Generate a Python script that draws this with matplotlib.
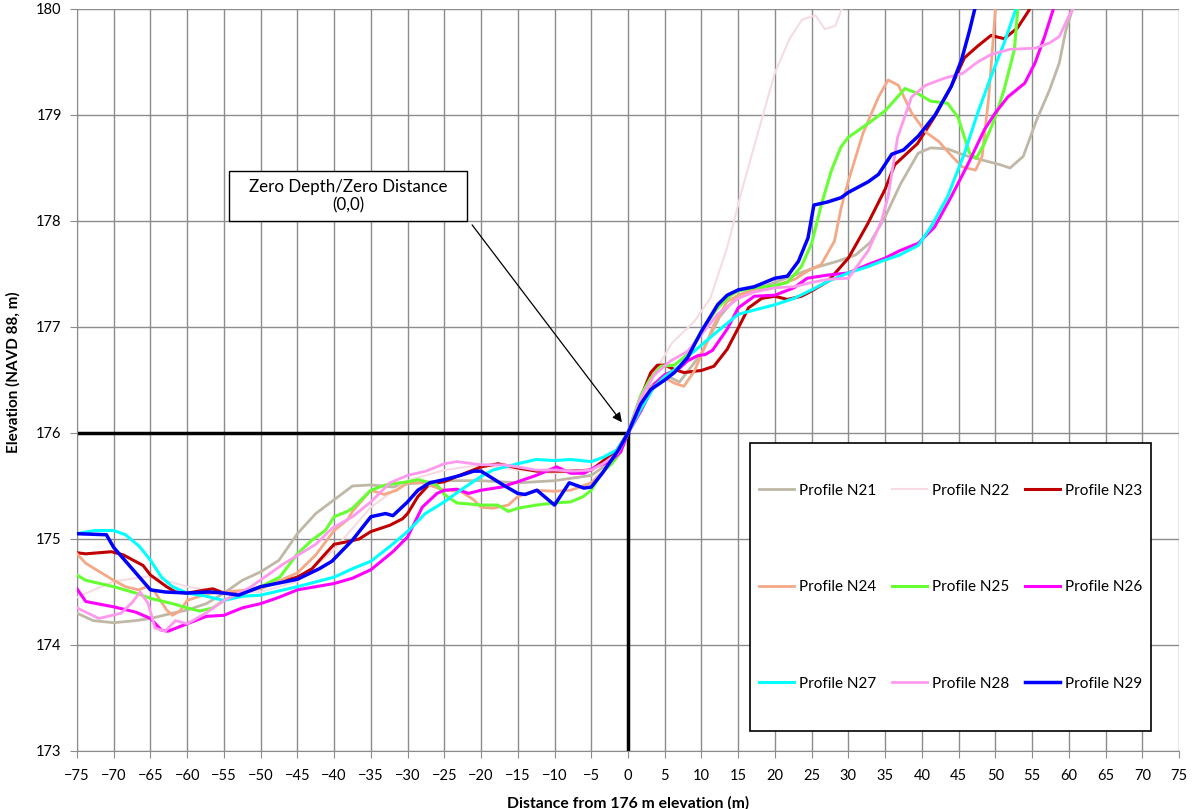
import matplotlib
matplotlib.use("Agg")
import matplotlib.pyplot as plt
from matplotlib.patches import Rectangle
from matplotlib.ticker import MultipleLocator

plt.rcParams['font.family'] = ['Lato', 'DejaVu Sans']

# ---- profile data (distance m, elevation m) ----
n21_x = [-75, -72.8, -70, -67, -65, -62, -60, -57.4, -55, -52.5, -50, -47.5, -45, -42.5, -40, -37.5, -35, -32, -30, -25,
         -20, -15, -10, -5, -2.5, 0, 2, 5, 7, 10, 12.5, 15, 20, 25, 28.5, 31, 33, 35, 37.1, 39.5, 41.2, 43.5, 45.8, 48.5,
         50.7, 52, 53.8, 55.6, 57.4, 58.7, 59.6, 60.5, 61]
n21_y = [174.3, 174.23, 174.21, 174.23, 174.25, 174.3, 174.33, 174.39, 174.49, 174.61, 174.69, 174.8, 175.05, 175.24,
         175.37, 175.5, 175.51, 175.49, 175.52, 175.55, 175.55, 175.53, 175.55, 175.6, 175.72, 176, 176.38, 176.55,
         176.48, 176.75, 177.1, 177.3, 177.42, 177.55, 177.62, 177.68, 177.8, 178.04, 178.35, 178.64, 178.69, 178.68,
         178.62, 178.57, 178.53, 178.5, 178.61, 178.95, 179.24, 179.49, 179.8, 180.0, 180.2]

n22_x = [-75, -70, -65, -60, -55, -50, -45, -40, -35, -30, -25, -20, -15, -10, -5, -2, 0, 3, 6, 9, 11.2, 13.5, 15.5,
         17.8, 20, 22, 23.7, 25.5, 26.8, 28.2, 29.1, 30]
n22_y = [174.45, 174.6, 174.65, 174.55, 174.5, 174.5, 174.6, 174.9, 175.3, 175.55, 175.65, 175.7, 175.65, 175.62,
         175.66, 175.8, 176, 176.5, 176.85, 177.05, 177.27, 177.75, 178.29, 178.86, 179.4, 179.72, 179.9, 179.94,
         179.81, 179.84, 180.0, 180.25]

n23_x = [-75, -73.8, -70.3, -68.7, -66, -65, -62.8, -61.6, -60, -58.3, -56.5, -55, -53, -50, -45, -43, -41.2, -40,
         -38.5, -36.6, -35, -32.4, -30.7, -30, -28.6, -27, -25, -23.3, -20, -17.7, -15, -12.4, -10, -7.8, -5, -3.5,
         -1.5, 0, 1.7, 3.1, 4, 5, 6.3, 7.6, 10, 11.7, 13.5, 15, 16.4, 18.2, 20, 21.7, 23.6, 25, 27.2, 30, 32.6, 35,
         36.3, 39.4, 41.7, 44, 45.8, 47.6, 49.4, 51.2, 53, 54.6, 55.5]
n23_y = [174.87, 174.86, 174.88, 174.85, 174.75, 174.66, 174.55, 174.5, 174.49, 174.51, 174.53, 174.49, 174.48, 174.55,
         174.64, 174.72, 174.86, 174.95, 174.97, 175.0, 175.07, 175.13, 175.19, 175.24, 175.4, 175.52, 175.54, 175.59,
         175.68, 175.71, 175.67, 175.64, 175.64, 175.64, 175.65, 175.73, 175.84, 176, 176.33, 176.57, 176.64, 176.64,
         176.6, 176.57, 176.59, 176.63, 176.79, 176.99, 177.18, 177.27, 177.29, 177.26, 177.29, 177.34, 177.43, 177.65,
         177.97, 178.3, 178.53, 178.73, 178.98, 179.27, 179.54, 179.65, 179.75, 179.72, 179.82, 179.99, 180.2]

n24_x = [-75, -73.8, -70, -68.4, -66.6, -65.5, -64.4, -62.8, -62, -61, -60, -58.3, -56.5, -55, -50, -45, -42.5, -40,
         -38.2, -37.5, -35, -33.2, -31.5, -30, -28, -25, -22.8, -21, -20, -18.4, -16.3, -15, -12.5, -10, -7.8, -5,
         -3.4, -1.6, 0, 1.7, 3.6, 5, 6.3, 7.6, 9, 10, 11.7, 13.5, 15, 17.2, 20, 22.7, 24.5, 26.3, 28.1, 29, 30, 32,
         34.1, 35.4, 36.8, 38.6, 40.5, 42.3, 44.1, 45.5, 47.3, 48.2, 49.1, 49.8, 50.2]
n24_y = [174.86, 174.77, 174.61, 174.55, 174.52, 174.55, 174.5, 174.33, 174.28, 174.32, 174.42, 174.46, 174.49, 174.5,
         174.53, 174.68, 174.85, 175.08, 175.18, 175.26, 175.46, 175.42, 175.46, 175.53, 175.53, 175.46, 175.45,
         175.37, 175.3, 175.29, 175.32, 175.4, 175.46, 175.45, 175.46, 175.53, 175.64, 175.76, 176, 176.3, 176.46,
         176.52, 176.47, 176.44, 176.58, 176.74, 177.02, 177.24, 177.3, 177.35, 177.39, 177.45, 177.53, 177.59,
         177.81, 178.12, 178.38, 178.83, 179.17, 179.33, 179.28, 179.02, 178.84, 178.75, 178.61, 178.51, 178.48,
         178.61, 179.17, 179.8, 180.2]

n25_x = [-75, -73.8, -70, -67, -65, -62, -60, -58.3, -56.5, -55, -53, -50, -47.4, -45, -43, -41.2, -40, -38.2, -37.5,
         -35, -33, -30, -28.5, -26, -25, -23.3, -20, -17.7, -16.3, -15, -12.5, -10, -7.8, -6.1, -5, -3.6, -2.2, -1, 0,
         1.7, 3.1, 4.5, 6.3, 8.1, 10, 12.2, 14, 15, 17.2, 20, 21.7, 23.6, 25, 26.3, 27.7, 29, 30, 32.7, 35, 36.3, 37.7,
         39.5, 41.2, 43.5, 44.9, 46.5, 47.4, 48.5, 50, 51.2, 52.6, 53.3]
n25_y = [174.66, 174.61, 174.55, 174.49, 174.44, 174.39, 174.35, 174.32, 174.35, 174.42, 174.48, 174.55, 174.64,
         174.86, 174.99, 175.08, 175.21, 175.26, 175.29, 175.46, 175.51, 175.54, 175.56, 175.51, 175.42, 175.34,
         175.32, 175.32, 175.26, 175.29, 175.32, 175.34, 175.35, 175.4, 175.46, 175.62, 175.71, 175.82, 176, 176.35,
         176.52, 176.63, 176.64, 176.74, 176.96, 177.18, 177.3, 177.34, 177.37, 177.39, 177.42, 177.57, 177.79,
         178.15, 178.48, 178.7, 178.79, 178.92, 179.04, 179.14, 179.25, 179.2, 179.13, 179.11, 178.98, 178.64,
         178.59, 178.73, 178.98, 179.24, 179.62, 180.2]

n26_x = [-75, -73.8, -70, -67, -65, -63.5, -62.6, -61.5, -60, -57.4, -55, -52.5, -50, -47.5, -45, -40, -37.5, -35, -32,
         -30, -28, -26, -25, -23.3, -21.7, -20, -17.2, -15, -12.5, -9.7, -7.8, -6, -4.4, -2.5, -1, 0, 1.7, 3.6, 5, 7,
         8.1, 9.5, 10.5, 11.5, 12.5, 13.5, 15, 17.2, 20, 22.6, 24.4, 27.2, 30, 32.7, 35, 37, 39.5, 41.7, 44, 46.3, 48.5,
         50, 51.7, 54, 55.4, 56.7, 57.9, 58.5]
n26_y = [174.53, 174.41, 174.36, 174.31, 174.25, 174.14, 174.13, 174.16, 174.2, 174.27, 174.28, 174.35, 174.39, 174.45,
         174.52, 174.58, 174.63, 174.71, 174.88, 175.02, 175.3, 175.43, 175.46, 175.47, 175.43, 175.46, 175.49,
         175.54, 175.6, 175.68, 175.62, 175.62, 175.68, 175.73, 175.82, 176, 176.2, 176.46, 176.55, 176.61, 176.68,
         176.73, 176.74, 176.78, 176.88, 176.98, 177.18, 177.29, 177.3, 177.37, 177.46, 177.49, 177.51, 177.59,
         177.65, 177.72, 177.79, 177.94, 178.23, 178.54, 178.86, 179.02, 179.17, 179.3, 179.49, 179.74, 180.0, 180.2]

n27_x = [-75, -72.6, -70, -68.4, -66.5, -65, -63.5, -62, -60, -57.4, -55, -52.5, -50, -45, -40, -37.5, -35, -32.4, -30,
         -27.6, -25, -22.8, -20, -18.4, -15, -12.5, -10, -7.8, -5, -3.4, -1.5, 0, 1.7, 3.6, 5, 7, 8.1, 10, 12.2, 15,
         17.2, 20, 22.6, 25, 27.2, 30, 32.7, 34.5, 37, 39.5, 41.2, 43.5, 45.8, 47.6, 49.4, 51.2, 52.8, 53.5]
n27_y = [175.05, 175.08, 175.08, 175.04, 174.93, 174.8, 174.64, 174.55, 174.49, 174.46, 174.42, 174.46, 174.47, 174.55,
         174.64, 174.72, 174.79, 174.93, 175.07, 175.24, 175.35, 175.46, 175.59, 175.65, 175.71, 175.75, 175.74,
         175.75, 175.73, 175.77, 175.84, 176, 176.22, 176.44, 176.53, 176.63, 176.72, 176.83, 176.96, 177.12, 177.16,
         177.21, 177.27, 177.35, 177.43, 177.51, 177.57, 177.62, 177.68, 177.77, 177.94, 178.23, 178.64, 179.02,
         179.36, 179.68, 180.0, 180.2]

n28_x = [-75, -72, -69, -67.5, -66.4, -65.3, -64.4, -63, -61.6, -60, -57.5, -55, -51.5, -47, -42.5, -40.3, -37.5, -35,
         -32.4, -30, -27.5, -25, -23.3, -20, -17, -15, -12.5, -10, -7.5, -5, -3.4, -1.4, 0, 1.7, 3.6, 5.8, 8.1, 10,
         12.2, 15, 17.2, 20, 22.6, 25, 27.2, 30, 32.7, 34.5, 35.4, 36.7, 38.6, 40.5, 43.2, 45.5, 47.6, 49.4, 52, 55.4,
         57.4, 58.7, 60.2, 60.6, 61]
n28_y = [174.35, 174.25, 174.3, 174.4, 174.5, 174.39, 174.16, 174.13, 174.23, 174.2, 174.3, 174.42, 174.54, 174.76,
         174.95, 175.1, 175.21, 175.35, 175.53, 175.6, 175.64, 175.71, 175.73, 175.7, 175.7, 175.68, 175.65, 175.65,
         175.64, 175.65, 175.71, 175.81, 176, 176.33, 176.55, 176.68, 176.77, 176.93, 177.12, 177.27, 177.33, 177.37,
         177.38, 177.42, 177.45, 177.46, 177.72, 178.0, 178.23, 178.79, 179.17, 179.28, 179.35, 179.39, 179.5,
         179.57, 179.62, 179.63, 179.68, 179.74, 179.96, 180.0, 180.2]

n29_x = [-75, -71, -70, -67, -65, -63, -60, -57, -55, -53, -50, -45, -42, -40.3, -37.5, -35, -33, -32, -30, -28.6,
         -27, -25, -22.8, -21, -20, -17, -15, -14, -12.4, -10, -8, -6, -5, -3.5, -1.3, 0, 1.7, 3.1, 5, 6.3, 8.1, 10,
         12.2, 13.5, 15, 17.2, 20, 21.7, 23.2, 24.5, 25.3, 27.2, 29, 30, 32.7, 34.1, 35.9, 37.5, 39.5, 41.8, 44, 45.4,
         46.5, 47.2, 47.6]
n29_y = [175.05, 175.04, 174.92, 174.68, 174.52, 174.5, 174.49, 174.5, 174.49, 174.47, 174.55, 174.62, 174.72, 174.79,
         174.99, 175.21, 175.24, 175.22, 175.35, 175.46, 175.53, 175.56, 175.6, 175.64, 175.64, 175.51, 175.43,
         175.42, 175.46, 175.32, 175.53, 175.48, 175.49, 175.62, 175.84, 176, 176.27, 176.41, 176.5, 176.57, 176.71,
         176.96, 177.21, 177.3, 177.35, 177.38, 177.46, 177.48, 177.62, 177.84, 178.15, 178.18, 178.22, 178.27,
         178.37, 178.44, 178.63, 178.67, 178.8, 179.0, 179.27, 179.52, 179.8, 180.0, 180.15]

labels = ['Profile N21', 'Profile N22', 'Profile N23', 'Profile N24', 'Profile N25',
          'Profile N26', 'Profile N27', 'Profile N28', 'Profile N29']
xs = [n21_x, n22_x, n23_x, n24_x, n25_x, n26_x, n27_x, n28_x, n29_x]
ys = [n21_y, n22_y, n23_y, n24_y, n25_y, n26_y, n27_y, n28_y, n29_y]
colors = ['#BFB8A6', '#F6DCE2', '#C00000', '#F5A886', '#66FF33',
          '#FF00FF', '#00FFFF', '#FF99EE', '#0000FF']
widths = [2.0, 1.5, 2.2, 2.0, 2.2, 2.2, 2.2, 2.0, 2.5]

fig = plt.figure(figsize=(12.01, 8.09), dpi=100)
ax = fig.add_axes([0.0641, 0.0717, 0.9176, 0.9172])

ax.set_xlim(-75, 75)
ax.set_ylim(173, 180)
ax.xaxis.set_major_locator(MultipleLocator(5))
ax.yaxis.set_major_locator(MultipleLocator(1))
ax.grid(which='major', color='#8C8C8C', linewidth=1.0)
ax.set_axisbelow(True)
for side in ['top', 'right']:
    ax.spines[side].set_visible(False)
for side in ['left', 'bottom']:
    ax.spines[side].set_color('#8C8C8C')
ax.tick_params(axis='both', colors='#8C8C8C', length=5, labelcolor='black')
ax.tick_params(axis='y', labelsize=10.5, pad=6)
ax.tick_params(axis='x', labelsize=10.5, pad=8)

# zero depth / zero distance reference lines
ax.plot([-75, 0], [176, 176], color='black', linewidth=2.5, zorder=1.5)
ax.plot([0, 0], [176, 173], color='black', linewidth=2.5, zorder=1.5)

handles = []
for x, y, c, w, lab in zip(xs, ys, colors, widths, labels):
    h, = ax.plot(x, y, color=c, linewidth=w, label=lab, solid_joinstyle='round', zorder=3)
    handles.append(h)

ax.set_xlabel('Distance from 176 m elevation (m)', fontsize=11.3, fontweight='bold')
ax.xaxis.set_label_coords(0.5, -0.061)
ax.set_ylabel('Elevation (NAVD 88, m)', fontsize=11, fontweight='bold')
ax.yaxis.set_label_coords(-0.051, 0.511)

# annotation box + arrow
box = Rectangle((0.138, 0.714), 0.216, 0.068, transform=ax.transAxes,
                facecolor='white', edgecolor='black', linewidth=1.0, zorder=6)
ax.add_patch(box)
ax.text(0.246, 0.748, 'Zero Depth/Zero Distance\n(0,0)', transform=ax.transAxes,
        ha='center', va='center', fontsize=12.2, linespacing=1.2, zorder=7)
ax.annotate('', xy=(-0.6, 176.08), xycoords='data', xytext=(0.357, 0.712), textcoords='axes fraction',
            arrowprops=dict(arrowstyle='-|>', color='black', lw=0.9, mutation_scale=14), zorder=7)

# legend box, entries laid out row by row like the original
frame = Rectangle((0.6107, 0.027), 0.3639, 0.388, transform=ax.transAxes,
                  facecolor='white', edgecolor='black', linewidth=1.2, zorder=8)
ax.add_patch(frame)
order = [0, 3, 6, 1, 4, 7, 2, 5, 8]
leg = ax.legend(handles=[handles[i] for i in order], loc='center', bbox_to_anchor=(0.7926, 0.221), ncol=3,
                frameon=False, fontsize=11, labelspacing=5.4, columnspacing=1.0,
                handlelength=2.3, handletextpad=0.35)
leg.set_zorder(9)

fig.savefig('out.png', dpi=100)
